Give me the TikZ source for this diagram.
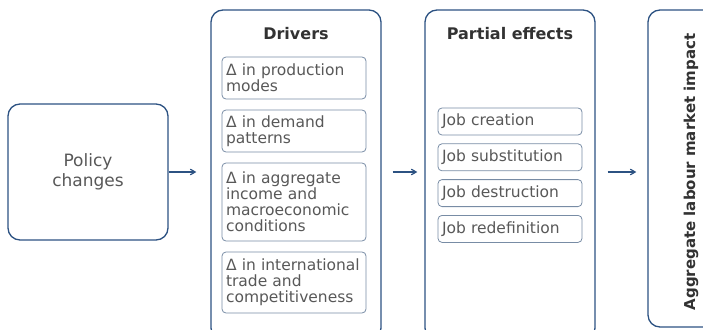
\documentclass[tikz,border=0pt]{standalone}
\usepackage{fontspec}
\setmainfont{DejaVu Sans}
\usetikzlibrary{positioning, arrows}

\definecolor{frameblue}{RGB}{44,82,130}
\definecolor{innerblue}{RGB}{120,140,165}
\definecolor{textgrey}{RGB}{88,88,88}
\definecolor{titlegrey}{RGB}{50,50,50}

\tikzset{
  bigbox/.style={draw=frameblue, line width=1.3pt, rounded corners=12pt},
  smallbox/.style={draw=innerblue, line width=0.8pt, rounded corners=4pt, text width=136pt,
    align=left, inner xsep=4pt, inner ysep=2.5pt, font=\fontsize{15.5}{16}\selectfont, text=textgrey},
  title/.style={font=\fontsize{16}{18}\selectfont\bfseries, text=titlegrey},
  flow/.style={->, >=angle 60, draw=frameblue, line width=1.2pt}
}

\begin{document}
\begin{tikzpicture}[x=1pt, y=-1pt]
			\useasboundingbox (0,0) rectangle (703,329);
			\node[bigbox, minimum width=160pt, minimum height=136pt, align=center, text=textgrey,
						font=\fontsize{17}{20}\selectfont] (policy) at (88,172) {Policy\\changes};
			\node[bigbox, minimum width=170pt, minimum height=330pt] (drivers) at (296,175) {};
			\node[bigbox, minimum width=170pt, minimum height=330pt] (effects) at (510,175) {};
			\node[bigbox, minimum width=68pt, minimum height=317pt] (impact) at (682,168.5) {};
			% titles
			\node[title] (dtitle) at (296,34) {Drivers};
			\node[title] (etitle) at (510,34) {Partial effects};
			\node[title, font=\fontsize{15}{18}\selectfont\bfseries, rotate=90] (itext) at (691,172) {Aggregate labour market impact};
			% drivers
			\node[smallbox, minimum height=42pt] (d1) at (294,78) {Δ in production\\modes};
			\node[smallbox, minimum height=42pt] (d2) at (294,131) {Δ in demand\\patterns};
			\node[smallbox, minimum height=78pt] (d3) at (294,202) {Δ in aggregate\\income and\\macroeconomic\\conditions};
			\node[smallbox, minimum height=61pt] (d4) at (294,282.5) {Δ in international\\trade and\\competitiveness};
			% partial effects
			\node[smallbox, minimum height=27pt] (j1) at (510,121.5) {Job creation};
			\node[smallbox, minimum height=27pt, below=8pt of j1] (j2) {Job substitution};
			\node[smallbox, minimum height=27pt, below=8pt of j2] (j3) {Job destruction};
			\node[smallbox, minimum height=27pt, below=8pt of j3] (j4) {Job redefinition};
			\draw[flow, shorten >=14pt] (policy.east) -- (policy.east -| drivers.west);
			\draw[flow, shorten <=11pt, shorten >=7pt] (drivers.east |- policy.east) -- (effects.west |- policy.east);
			\draw[flow, shorten <=12pt, shorten >=11pt] (effects.east |- policy.east) -- (impact.west |- policy.east);
		\end{tikzpicture}
\end{document}
